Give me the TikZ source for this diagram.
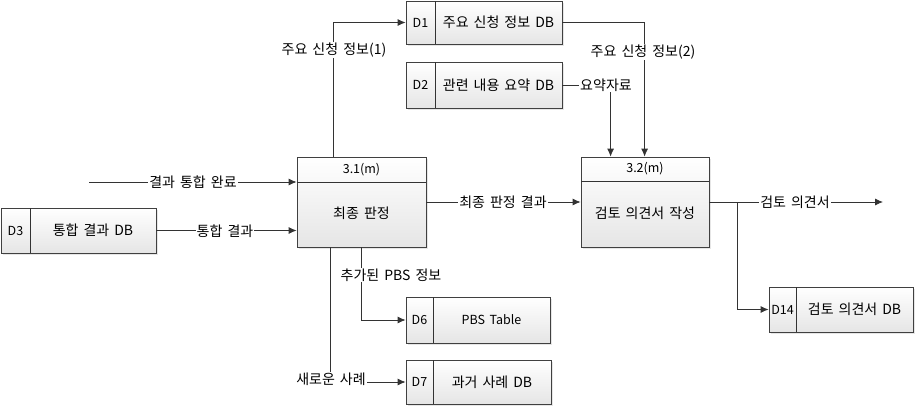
\documentclass[tikz,border=0pt]{standalone}
\usepackage{fontspec}
\setmainfont[WordSpace=1.6]{Noto Sans CJK KR}
\usetikzlibrary{arrows.meta,shadows}

\tikzset{
	box/.style={draw=black!75, line width=0.8pt, top color=white, bottom color=black!10,
		drop shadow={shadow xshift=2pt, shadow yshift=-2pt, opacity=0.2}, inner sep=0pt},
	flow/.style={draw=black!80, line width=0.8pt},
	lbl/.style={fill=white, inner sep=1pt},
	idtxt/.style={font=\fontsize{12.5}{15}\selectfont},
}

\begin{document}
\begin{tikzpicture}[x=1pt,y=-1pt,>={Latex[length=8pt,width=7pt]},font=\fontsize{14}{16}\selectfont]
	\useasboundingbox (0,0) rectangle (916,408);

	% data stores
	\node [box, minimum width=156pt, minimum height=43pt] (d1) at (484, 22.5) {};
	\draw [flow] (435, 1) -- (435, 44);
	\node [idtxt] (d1id) at (420.5, 22.5) {D1};
	\node (d1txt) at (498.5, 22.5) {주요 신청 정보 DB};

	\node [box, minimum width=156pt, minimum height=46pt] (d2) at (484, 85) {};
	\draw [flow] (435, 62) -- (435, 108);
	\node [idtxt] (d2id) at (420.5, 85) {D2};
	\node (d2txt) at (498.5, 85) {관련 내용 요약 DB};

	\node [box, minimum width=155pt, minimum height=45pt] (d3) at (78.5, 230.5) {};
	\draw [flow] (30, 208) -- (30, 253);
	\node [idtxt] (d3id) at (15.5, 230.5) {D3};
	\node (d3txt) at (93, 230.5) {통합 결과 DB};

	\node [box, minimum width=144pt, minimum height=46pt] (d6) at (478, 320) {};
	\draw [flow] (433, 297) -- (433, 343);
	\node [idtxt] (d6id) at (419.5, 320) {D6};
	\node [idtxt] (d6txt) at (491.5, 320) {PBS Table};

	\node [box, minimum width=145pt, minimum height=44pt] (d7) at (478.5, 382) {};
	\draw [flow] (433, 360) -- (433, 404);
	\node [idtxt] (d7id) at (419.5, 382) {D7};
	\node (d7txt) at (492, 382) {과거 사례 DB};

	\node [box, minimum width=144pt, minimum height=45pt] (d14) at (841, 309.5) {};
	\draw [flow] (796, 287) -- (796, 332);
	\node [idtxt] (d14id) at (782.5, 309.5) {D14};
	\node (d14txt) at (854.5, 309.5) {검토 의견서 DB};

	% processes
	\node [box, minimum width=129pt, minimum height=90pt] (p31) at (361.5, 202) {};
	\draw [flow] (297, 182) -- (426, 182);
	\node [idtxt] (p31id) at (361.5, 169.5) {3.1(m)};
	\node (p31txt) at (361.5, 213) {최종 판정};

	\node [box, minimum width=128pt, minimum height=90pt] (p32) at (645, 202) {};
	\draw [flow] (581, 181) -- (709, 181);
	\node [idtxt] (p32id) at (645, 169) {3.2(m)};
	\node (p32txt) at (645, 213) {검토 의견서 작성};

	\coordinate (in1) at (89, 182);
	\coordinate (out1) at (883, 202);

	% flows
	\draw [flow, ->] (in1) -- (p31.west |- in1);
	\draw [flow, ->] (d3.east) -- (p31.west |- d3.east);
	\draw [flow, ->] (p31.east) -- (p32.west);
	\draw [flow, ->] ([xshift=37pt]p31.north west) |- (d1.west);
	\draw [flow, ->] (d1.east) -| ([xshift=64pt]p32.north west);
	\draw [flow, ->] (d2.east) -| ([xshift=30pt]p32.north west);
	\draw [flow, ->] (p32.east) -- (out1);
	\draw [flow, ->] (p32.east) -- ++(28, 0) |- (d14.west);
	\draw [flow, ->] (p31.south) |- (d6.west);
	\draw [flow, ->] ([xshift=34pt]p31.south west) |- (d7.west);

	% flow labels
	\node [lbl] (l1) at (193, 182) {결과 통합 완료};
	\node [lbl] (l2) at (225, 231) {통합 결과};
	\node [lbl] (l3) at (503, 202) {최종 판정 결과};
	\node [lbl] (l4) at (334, 50) {주요 신청 정보(1)};
	\node [lbl] (l5) at (643, 52) {주요 신청 정보(2)};
	\node [lbl] (l6) at (606, 85) {요약자료};
	\node [lbl] (l7) at (795, 202) {검토 의견서};
	\node [lbl] (l8) at (391, 275) {추가된 PBS 정보};
	\node [lbl] (l9) at (331, 379) {새로운 사례};

\end{tikzpicture}
\end{document}
